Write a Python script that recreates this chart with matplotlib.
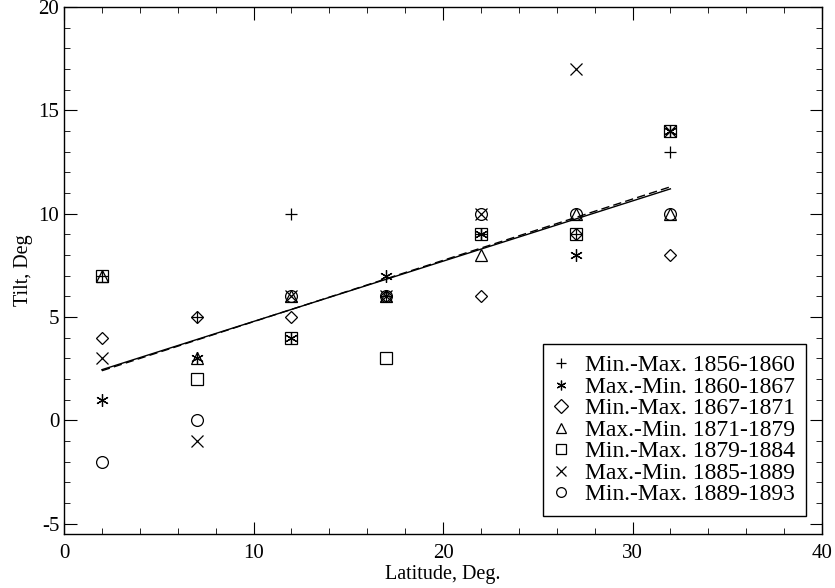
import matplotlib
matplotlib.use("Agg")
import matplotlib.pyplot as plt
from matplotlib.ticker import MultipleLocator
import numpy as np

plt.rcParams['font.family'] = ['Liberation Serif', 'DejaVu Serif']
plt.rcParams['axes.unicode_minus'] = False

latitude = [2, 7, 12, 17, 22, 27, 32]

labels = ["Min.-Max. 1856-1860", "Max.-Min. 1860-1867", "Min.-Max. 1867-1871",
          "Max.-Min. 1871-1879", "Min.-Max. 1879-1884", "Max.-Min. 1885-1889",
          "Min.-Max. 1889-1893"]

tilt_1856 = [7, 5, 10, 6, 9, 9, 13]
tilt_1860 = [1, 3, 4, 7, 9, 8, 14]
tilt_1867 = [4, 5, 5, 6, 6, 9, 8]
tilt_1871 = [7, 3, 6, 6, 8, 10, 10]
tilt_1879 = [7, 2, 4, 3, 9, 9, 14]
tilt_1885 = [3, -1, 6, 6, 10, 17, 14]
tilt_1889 = [-2, 0, 6, 6, 10, 10, 10]

fit_x = [2, 32]
fit_solid = [2.45, 11.2]
fit_dashed = [2.4, 11.3]

series = [tilt_1856, tilt_1860, tilt_1867, tilt_1871, tilt_1879, tilt_1885, tilt_1889]
markers = ['+', (6, 2, 0), 'D', '^', 's', 'x', 'o']
sizes = [9, 9, 6, 8.5, 8.5, 9, 8.5]

fig = plt.figure(figsize=(8.35, 5.88), dpi=100)
ax = fig.add_axes([64/835, 1 - 534/588, (822-64)/835, (534-7)/588])

for vals, m, lab, s in zip(series, markers, labels, sizes):
    ax.plot(latitude, vals, linestyle='none', marker=m, markersize=s,
            markerfacecolor='none', markeredgecolor='black', markeredgewidth=0.9,
            color='black', label=lab)

ax.plot(fit_x, fit_solid, color='black', linewidth=1.0, linestyle='-')
ax.plot(fit_x, fit_dashed, color='black', linewidth=1.0, linestyle=(0, (6, 3)))

ax.set_xlim(0, 40)
ax.set_ylim(-5.5, 20)
ax.xaxis.set_major_locator(MultipleLocator(10))
ax.xaxis.set_minor_locator(MultipleLocator(2))
ax.yaxis.set_major_locator(MultipleLocator(5))
ax.yaxis.set_minor_locator(MultipleLocator(1))
ax.tick_params(which='both', direction='in', top=True, right=True, labelsize=15)
ax.tick_params(axis='x', which='major', pad=7)
ax.tick_params(which='major', length=9)
ax.tick_params(which='minor', length=4.5)
for sp in ax.spines.values():
    sp.set_linewidth(1.0)

ax.set_xlabel("Latitude, Deg.", fontsize=14.5, labelpad=2)
ax.set_ylabel("Tilt, Deg", fontsize=14.5, labelpad=4)

leg = ax.legend(loc='lower right', fontsize=17, labelspacing=0.0, handletextpad=0.75,
                handlelength=0.6, borderpad=0.45, borderaxespad=0, fancybox=False,
                framealpha=1, edgecolor='black', bbox_to_anchor=(0.979, 0.034))
leg.get_frame().set_linewidth(1.0)
for h in leg.legend_handles:
    h.set_markersize(7)

fig.savefig("out.png", dpi=100)
